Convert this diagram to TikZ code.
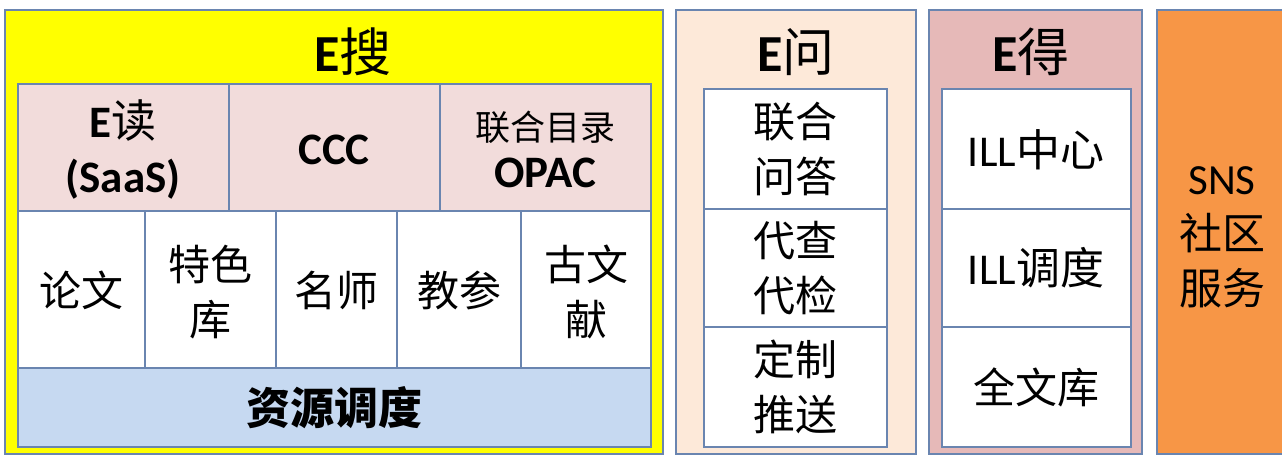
\documentclass[tikz,border=0pt]{standalone}
\usepackage{fontspec}
\setmainfont{Carlito}
\newfontfamily\cjk{Noto Sans CJK SC}
\newcommand\zh[1]{{\cjk #1}}
\definecolor{bd}{HTML}{6A85B0}
\definecolor{ysearch}{HTML}{FFFF00}
\definecolor{pinkrow}{HTML}{F2DCDB}
\definecolor{bluerow}{HTML}{C6D9F1}
\definecolor{peach}{HTML}{FDE9D9}
\definecolor{rose}{HTML}{E6B9B8}
\definecolor{orng}{HTML}{F79646}
\begin{document}
\begin{tikzpicture}[x=1pt,y=-1pt,
  box/.style={draw=bd,line width=1.3pt},
  txt/.style={inner sep=0pt,align=center,font=\fontsize{42}{55}\selectfont},
  boldtxt/.style={inner sep=0pt,align=center,font=\fontsize{45}{55}\selectfont\bfseries},
  title/.style={inner sep=0pt,font=\fontsize{52}{60}\selectfont}]
\useasboundingbox (0,0) rectangle (1282,455);
\fill[white] (0,0) rectangle (1282,455);
% ---------- E search ----------
\path[box,fill=ysearch] (5,10) rectangle (663,454);
\node[title] (tsearch) at (353,52) {\textbf{E}\zh{搜}};
\path[box,fill=pinkrow] (18,84) rectangle (229,211);
\path[box,fill=pinkrow] (229,84) rectangle (440,211);
\path[box,fill=pinkrow] (440,84) rectangle (651,211);
\path[box,fill=white] (18,211) rectangle (145,368);
\path[box,fill=white] (145,211) rectangle (276,368);
\path[box,fill=white] (276,211) rectangle (397,368);
\path[box,fill=white] (397,211) rectangle (521,368);
\path[box,fill=white] (521,211) rectangle (651,368);
\path[box,fill=bluerow] (18,368) rectangle (651,447);
\node[boldtxt] (eread) at (123,150) {E\zh{\mdseries 读}\\(SaaS)};
\node[boldtxt] (ccc) at (334,150) {CCC};
\node[inner sep=0pt,align=center,font=\fontsize{35}{47}\selectfont] (opac) at (545,149) {\zh{联合目录}\\\fontsize{45}{47}\selectfont\bfseries OPAC};
\node[txt] (lunwen) at (81,290) {\zh{论文}};
\node[txt] (tese) at (210,292) {\zh{特色}\\\zh{库}};
\node[txt] (mingshi) at (336,290) {\zh{名师}};
\node[txt] (jiaocan) at (459,290) {\zh{教参}};
\node[txt] (guwen) at (586,292) {\zh{古文}\\\zh{献}};
\node[txt,font=\fontsize{44}{55}\selectfont\bfseries] (ziyuan) at (334,408) {\zh{资源调度}};
% ---------- E ask ----------
\path[box,fill=peach] (676,10) rectangle (916,454);
\node[title] (task) at (796,52) {\textbf{E}\zh{问}};
\path[box,fill=white] (704,89) rectangle (887,209);
\path[box,fill=white] (704,209) rectangle (887,327);
\path[box,fill=white] (704,327) rectangle (887,447);
\node[txt] (lianhe) at (795,149) {\zh{联合}\\\zh{问答}};
\node[txt] (daicha) at (795,268) {\zh{代查}\\\zh{代检}};
\node[txt] (dingzhi) at (795,387) {\zh{定制}\\\zh{推送}};
% ---------- E get ----------
\path[box,fill=rose] (929,10) rectangle (1142,454);
\node[title] (tget) at (1031,52) {\textbf{E}\zh{得}};
\path[box,fill=white] (942,89) rectangle (1131,209);
\path[box,fill=white] (942,209) rectangle (1131,327);
\path[box,fill=white] (942,327) rectangle (1131,447);
\node[txt] (illc) at (1036,150) {\fontsize{44}{55}\selectfont ILL\zh{中心}};
\node[txt] (illd) at (1036,268) {\fontsize{44}{55}\selectfont ILL\zh{调度}};
\node[txt] (quanwen) at (1036,387) {\zh{全文库}};
% ---------- SNS ----------
\path[box,fill=orng] (1157,10) rectangle (1290,454);
\node[txt,font=\fontsize{43}{55}\selectfont] (sns) at (1222,237) {SNS\\\zh{社区}\\\zh{服务}};
\end{tikzpicture}
\end{document}
